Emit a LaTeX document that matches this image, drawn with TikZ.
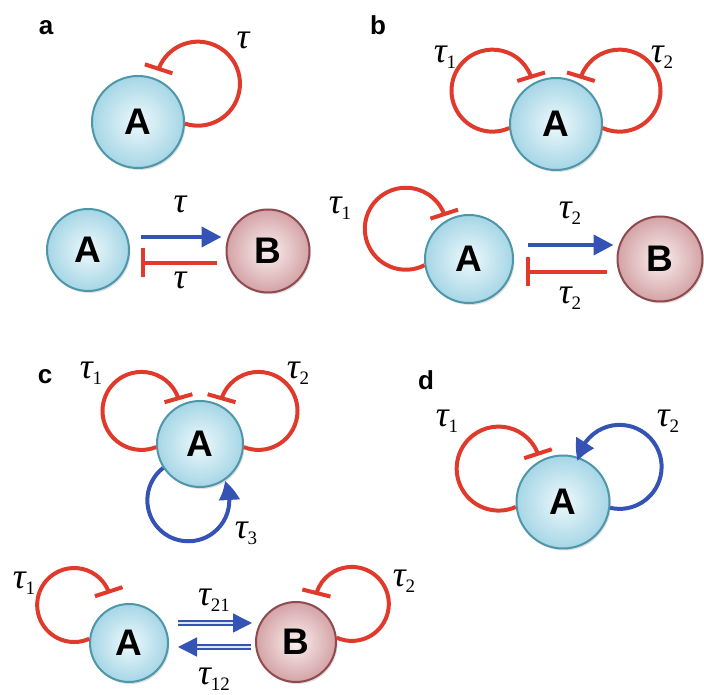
\documentclass[tikz,border=0pt]{standalone}
\usepackage{fontspec}
\setmainfont{Liberation Sans}
\newfontfamily\serifT{Liberation Serif}
\usetikzlibrary{arrows.meta,bending,shadows,calc}
\definecolor{inhred}{HTML}{E03A2C}
\definecolor{actblue}{HTML}{3453B4}
\definecolor{Aborder}{HTML}{4E96AA}
\definecolor{Ain}{HTML}{EEF9FC}
\definecolor{Aout}{HTML}{A6D6E6}
\definecolor{Bborder}{HTML}{8E4A4E}
\definecolor{Bin}{HTML}{FAEFEF}
\definecolor{Bout}{HTML}{D4A3A6}
\definecolor{dblin}{HTML}{DCE4F6}
\newcommand\tauT[1]{{\serifT\itshape\fontsize{36}{36}\selectfont τ}\raisebox{-6pt}{\serifT\fontsize{19}{19}\selectfont #1}}
\begin{document}
\begin{tikzpicture}[x=1pt,y=1pt]
\tikzset{
  nodeA/.style={circle, draw=Aborder, line width=2pt, inner color=Ain, outer color=Aout,
    minimum size=#1, inner sep=0pt, font=\fontsize{37}{37}\selectfont\bfseries,
    drop shadow={shadow xshift=1.5pt, shadow yshift=-2pt, opacity=0.25}},
  nodeB/.style={circle, draw=Bborder, line width=2pt, inner color=Bin, outer color=Bout,
    minimum size=#1, inner sep=0pt, font=\fontsize{37}{37}\selectfont\bfseries,
    drop shadow={shadow xshift=1.5pt, shadow yshift=-2pt, opacity=0.25}},
  panel/.style={font=\fontsize{26}{26}\selectfont\bfseries, inner sep=0pt},
  taulab/.style={inner sep=0pt},
  inh/.style={draw=inhred, line width=4pt, -{Bar[width=29pt, line width=4pt]}},
  act/.style={draw=actblue, line width=4pt, -{Triangle[length=20pt, width=20pt, bend]}},
  dbl/.style={draw=actblue, line width=1.4pt, double=dblin, double distance=2.6pt,
    -{Triangle[length=19pt, width=19pt]}}
}
\useasboundingbox (0,0) rectangle (704,695);

% ---------- panel a ----------
\node[panel] (la) at (46,667) {a};
\node[nodeA=92] (a1) at (138,573) {A};
\draw[inh] (a1.-2) arc[start angle=-108, end angle=162, radius=42];
\node[taulab] (ta1) at (243,652) {\tauT{}};

\node[nodeA=82] (a2) at (88,445) {A};
\node[nodeB=83] (b2) at (268,444) {B};
\draw[act] ([xshift=11pt,yshift=13pt]a2.east) -- ([xshift=-4pt,yshift=14pt]b2.west);
\draw[inh] ([xshift=-9pt,yshift=-12pt]b2.west) -- ([xshift=11pt,yshift=-13pt]a2.east);
\node[taulab] (ta2) at (180,488) {\tauT{}};
\node[taulab] (ta3) at (180,412) {\tauT{}};

% ---------- panel b ----------
\node[panel] (lb) at (378,670) {b};
\node[nodeA=92] (a3) at (556,571) {A};
\draw[inh] (a3.185) arc[start angle=-66, end angle=-343, radius=41];
\draw[inh] (a3.-5) arc[start angle=246, end angle=523, radius=41];
\node[taulab] (tb1) at (445,638) {\tauT{1}};
\node[taulab] (tb2) at (662,638) {\tauT{2}};

\node[nodeA=88] (a4) at (469,436) {A};
\node[nodeB=85] (b4) at (660,436) {B};
\draw[act] ([xshift=14pt,yshift=14pt]a4.east) -- ([xshift=-3pt,yshift=14pt]b4.west);
\draw[inh] ([xshift=-10pt,yshift=-13pt]b4.west) -- ([xshift=12pt,yshift=-13pt]a4.east);
\draw[inh] (a4.188) arc[start angle=-63, end angle=-342, radius=41];
\node[taulab] (tb3) at (340,487) {\tauT{1}};
\node[taulab] (tb4) at (570,482) {\tauT{2}};
\node[taulab] (tb5) at (570,397) {\tauT{2}};

% ---------- panel c ----------
\node[panel] (lc) at (45,318) {c};
\node[nodeA=86] (a5) at (200,251) {A};
\draw[inh] (a5.184) arc[start angle=-68, end angle=-344, radius=39];
\draw[inh] (a5.-4) arc[start angle=248, end angle=524, radius=39];
\draw[act] (a5.213) arc[start angle=128, end angle=388, radius=41];
\node[taulab] (tc1) at (91,322) {\tauT{1}};
\node[taulab] (tc2) at (298,322) {\tauT{2}};
\node[taulab] (tc3) at (246,162) {\tauT{3}};

\node[nodeA=78] (a6) at (129,52) {A};
\node[nodeB=80] (b6) at (296,53) {B};
\draw[inh] (a6.174) arc[start angle=-66, end angle=-342, radius=37];
\draw[inh] (b6.6) arc[start angle=-114, end angle=166, radius=37];
\draw[dbl] ([xshift=9pt,yshift=20pt]a6.east) -- ([xshift=-3pt,yshift=19pt]b6.west);
\draw[dbl] ([xshift=-4pt,yshift=-5pt]b6.west) -- ([xshift=9pt,yshift=-4pt]a6.east);
\node[taulab] (tc4) at (24,112) {\tauT{1}};
\node[taulab] (tc5) at (404,114) {\tauT{2}};
\node[taulab] (tc6) at (214,95) {\tauT{21}};
\node[taulab] (tc7) at (214,16) {\tauT{12}};

% ---------- panel d ----------
\node[panel] (ld) at (426,315) {d};
\node[nodeA=93] (a7) at (563,193) {A};
\draw[inh] (a7.186) arc[start angle=-66, end angle=-342, radius=42];
\draw[act] (a7.-7) arc[start angle=-103, end angle=172, radius=42];
\node[taulab] (td1) at (447,274) {\tauT{1}};
\node[taulab] (td2) at (668,274) {\tauT{2}};
\end{tikzpicture}
\end{document}
